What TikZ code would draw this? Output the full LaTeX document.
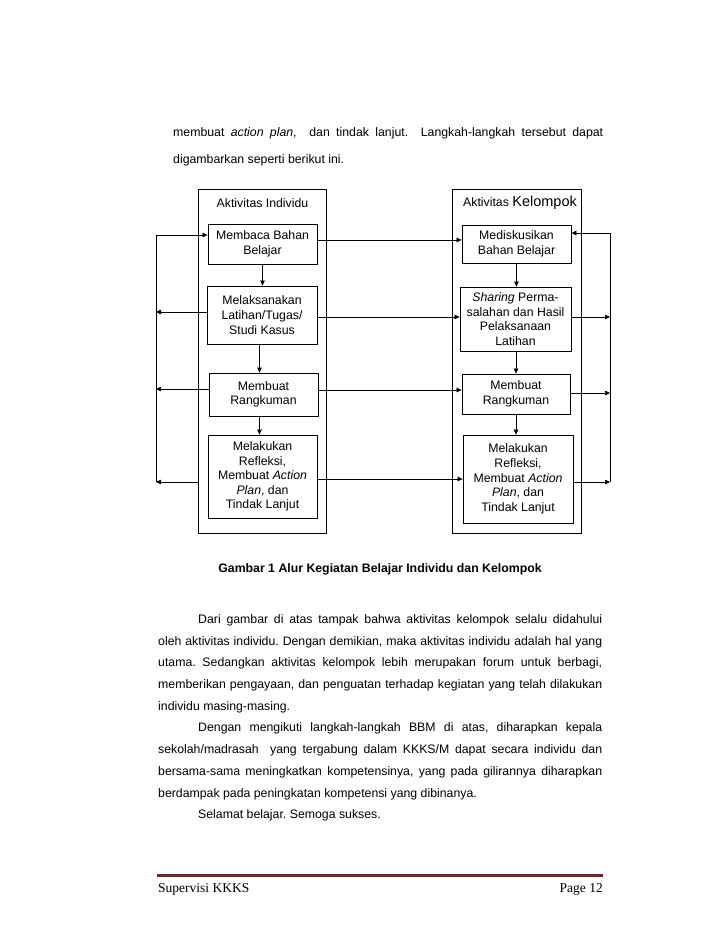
\documentclass[tikz,border=0pt]{standalone}
\usepackage{fontspec}
\setmainfont{Liberation Sans}
\newfontfamily\myfootfont{Liberation Serif}
\usetikzlibrary{arrows.meta}
\definecolor{footred}{RGB}{112,38,38}
\newcommand\mydiafont{\fontsize{12.3}{14.6}\selectfont}
\newcommand\mybodyfont{\fontsize{12.3}{14.6}\selectfont}
\frenchspacing
\begin{document}
\begin{tikzpicture}[x=1pt,y=-1pt,
  box/.style={draw,line width=0.8pt,align=center,inner sep=0pt,font=\mydiafont},
  cont/.style={draw,line width=0.9pt,inner sep=0pt},
  hdr/.style={inner sep=0pt,font=\mydiafont},
  arr/.style={line width=0.7pt,-{Triangle[length=5pt,width=4.5pt]}},
  txt/.style={inner sep=0pt,anchor=west,font=\mybodyfont}]
\fill[white] (0,0) rectangle (728,943);
\useasboundingbox (0,0) rectangle (728,943);

% top text
\node[txt] (t1) at (173,133) {\makebox[430pt][s]{membuat \textit{action plan},\ \ dan tindak lanjut.\ \ Langkah-langkah tersebut dapat}};
\node[txt] (t2) at (173,160) {digambarkan seperti berikut ini.};

% containers
\node[cont, minimum width=128, minimum height=344] (lc) at (262,361) {};
\node[cont, minimum width=129, minimum height=344] (rc) at (516.5,361) {};
\node[hdr] (lh) at (262.5,203) {Aktivitas Individu};
\node[hdr] (rh) at (520,203) {Aktivitas {\fontsize{14.5}{16}\selectfont Kelompok}};

% left boxes
\node[box, minimum width=109, minimum height=40] (a1) at (262.5,244) {Membaca Bahan\\Belajar};
\node[box, minimum width=110, minimum height=58] (a2) at (262,315) {Melaksanakan\\Latihan/Tugas/\\Studi Kasus};
\node[box, minimum width=109, minimum height=43] (a3) at (263.5,394.5) {Membuat\\Rangkuman};
\node[box, minimum width=109, minimum height=83] (a4) at (262.5,476.5) {Melakukan\\Refleksi,\\Membuat \textit{Action}\\\textit{Plan}, dan\\Tindak Lanjut};

% right boxes
\node[box, minimum width=109, minimum height=38] (b1) at (516.5,244) {Mediskusikan\\Bahan Belajar};
\node[box, minimum width=111, minimum height=64] (b2) at (515.5,319) {\textit{Sharing} Perma-\\salahan dan Hasil\\Pelaksanaan\\Latihan};
\node[box, minimum width=108, minimum height=40] (b3) at (516,394) {Membuat\\Rangkuman};
\node[box, minimum width=110, minimum height=88] (b4) at (518,479) {Melakukan\\Refleksi,\\Membuat \textit{Action}\\\textit{Plan}, dan\\Tindak Lanjut};

% vertical arrows
\draw[arr] (a1.south) -- (a1.south |- a2.north);
\draw[arr] ([xshift=-4pt]a3.north |- a2.south) -- ([xshift=-4pt]a3.north);
\draw[arr] ([xshift=-4pt]a3.south) -- ([xshift=-4pt]a3.south |- a4.north);
\draw[arr] (b1.south) -- (b1.south |- b2.north);
\draw[arr] (b3.north |- b2.south) -- (b3.north);
\draw[arr] (b3.south) -- (b3.south |- b4.north);

% middle arrows
\draw[arr] ([yshift=4pt]a1.east) -- ([yshift=4pt]a1.east -| b1.west);
\draw[arr] ([yshift=-2pt]a2.east) -- ([yshift=-2pt]a2.east -| b2.west);
\draw[arr] ([yshift=4.5pt]a3.east) -- ([yshift=4.5pt]a3.east -| b3.west);
\draw[arr] ([yshift=-2.5pt]a4.east) -- ([yshift=-2.5pt]a4.east -| b4.west);

% left loop
\coordinate (ltop) at (156,235);
\coordinate (lbot) at (156,482);
\draw[arr] ([yshift=3pt]a2.west) -- ([yshift=3pt]a2.west -| ltop);
\draw[arr] ([yshift=5.5pt]a3.west) -- ([yshift=5.5pt]a3.west -| ltop);
\draw[arr] (lc.west |- lbot) -- (lbot);
\draw[arr] (lbot) -- (ltop) -- (ltop -| a1.west);

% right loop
\coordinate (rtop) at (610,233);
\coordinate (rbot) at (610,482);
\draw[arr] ([yshift=2pt]b2.east) -- ([yshift=2pt]b2.east -| rtop);
\draw[arr] ([yshift=1pt]b3.east) -- ([yshift=1pt]b3.east -| rtop);
\draw[arr] ([yshift=-3pt]b4.east) -- ([yshift=-3pt]b4.east -| rtop);
\draw[arr] (rbot) -- (rtop) -- (rtop -| b1.east);

% caption
\node[inner sep=0pt,font=\mybodyfont\bfseries] (cap) at (380,569) {Gambar 1 Alur Kegiatan Belajar Individu dan Kelompok};

% body text
\node[txt] (p1) at (198,620) {\makebox[404pt][s]{Dari gambar di atas tampak bahwa aktivitas kelompok selalu didahului}};
\node[txt] (p2) at (158,642) {\makebox[444pt][s]{oleh aktivitas individu. Dengan demikian, maka aktivitas individu adalah hal yang}};
\node[txt] (p3) at (158,663) {\makebox[444pt][s]{utama. Sedangkan aktivitas kelompok lebih merupakan forum untuk berbagi,}};
\node[txt] (p4) at (158,685) {\makebox[444pt][s]{memberikan pengayaan, dan penguatan terhadap kegiatan yang telah dilakukan}};
\node[txt] (p5) at (158,707) {individu masing-masing.};
\node[txt] (p6) at (198,728) {\makebox[404pt][s]{Dengan mengikuti langkah-langkah BBM di atas, diharapkan kepala}};
\node[txt] (p7) at (158,750) {\makebox[444pt][s]{sekolah/madrasah\ \ yang tergabung dalam KKKS/M dapat secara individu dan}};
\node[txt] (p8) at (158,772) {\makebox[444pt][s]{bersama-sama meningkatkan kompetensinya, yang pada gilirannya diharapkan}};
\node[txt] (p9) at (158,794) {berdampak pada peningkatan kompetensi yang dibinanya.};
\node[txt] (p10) at (198,815) {Selamat belajar. Semoga sukses.};

% footer
\coordinate (fl) at (157,875.5);
\coordinate (fr) at (603,875.5);
\draw[line width=3.2pt, footred] (fl) -- (fr);
\node[inner sep=0pt,anchor=west,font=\myfootfont\fontsize{13.5}{16}\selectfont] (f1) at (158,889) {Supervisi KKKS};
\node[inner sep=0pt,anchor=east,font=\myfootfont\fontsize{13.5}{16}\selectfont] (f2) at (603,889) {Page 12};
\end{tikzpicture}
\end{document}
